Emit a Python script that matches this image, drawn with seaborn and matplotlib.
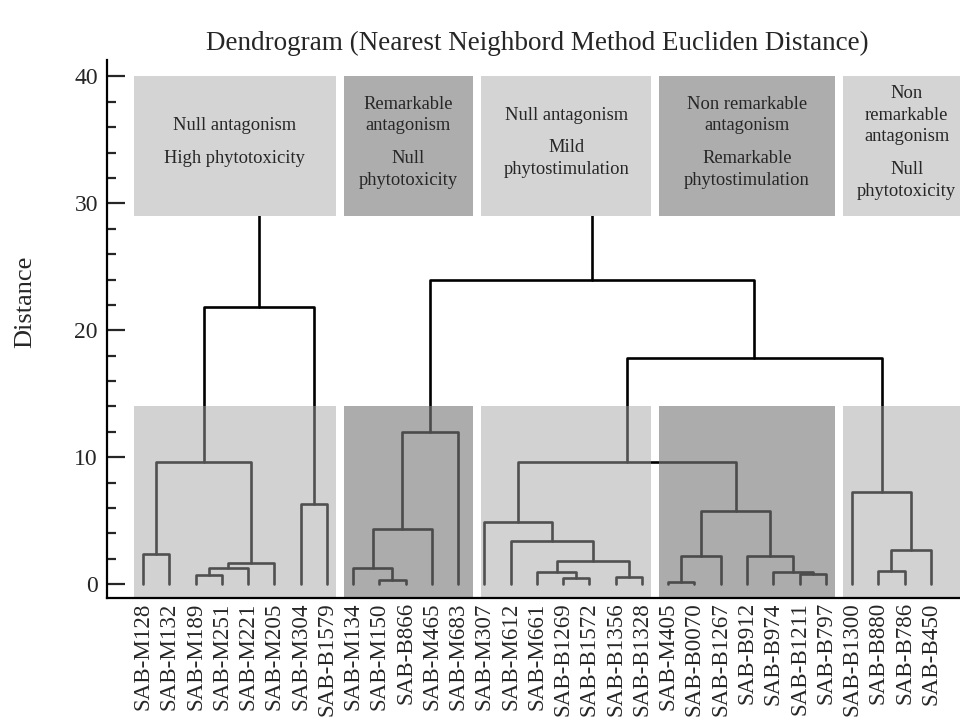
import matplotlib
matplotlib.use("Agg")
import matplotlib.pyplot as plt
from matplotlib.patches import Rectangle
import seaborn as sns
import pandas as pd

leaf_labels = ['SAB-M128', 'SAB-M132', 'SAB-M189', 'SAB-M251', 'SAB-M221', 'SAB-M205',
               'SAB-M304', 'SAB-B1579', 'SAB-M134', 'SAB-M150', 'SAB-B866', 'SAB-M465',
               'SAB-M683', 'SAB-M307', 'SAB-M612', 'SAB-M661', 'SAB-B1269', 'SAB-B1572',
               'SAB-B1356', 'SAB-B1328', 'SAB-M405', 'SAB-B0070', 'SAB-B1267', 'SAB-B912',
               'SAB-B974', 'SAB-B1211', 'SAB-B797', 'SAB-B1300', 'SAB-B880', 'SAB-B786',
               'SAB-B450']

# merges like a linkage table: node 31+k joins merge_a[k] and merge_b[k]
merge_a = [20, 9, 16, 18, 2, 25, 15, 24, 28, 8, 35, 41, 37, 31, 23, 0, 39, 14, 40, 13,
           44, 6, 27, 46, 50, 49, 55, 54, 56]
merge_b = [21, 10, 17, 19, 3, 26, 33, 36, 29, 32, 4, 5, 34, 22, 38, 1, 30, 43, 11, 48,
           45, 7, 47, 42, 51, 12, 53, 52, 57]
merge_h = [0.13, 0.30, 0.47, 0.58, 0.73, 0.76, 0.92, 0.92, 1.05, 1.23, 1.23, 1.63, 1.81,
           2.2, 2.2, 2.4, 2.68, 3.41, 4.33, 4.86, 5.77, 6.27, 7.22, 9.58, 9.63, 12.0,
           17.85, 21.85, 24.0]

cluster_first = [0, 8, 13, 20, 27]
cluster_last = [7, 12, 19, 26, 30]
cluster_text = [
    [['Null antagonism'], ['High phytotoxicity']],
    [['Remarkable', 'antagonism'], ['Null', 'phytotoxicity']],
    [['Null antagonism'], ['Mild', 'phytostimulation']],
    [['Non remarkable', 'antagonism'], ['Remarkable', 'phytostimulation']],
    [['Non', 'remarkable', 'antagonism'], ['Null', 'phytotoxicity']],
]

sns.set_style("white")
plt.rcParams['font.family'] = ['Liberation Serif', 'DejaVu Serif']

# dendrogram coordinates
n = len(leaf_labels)
node_x = [float(i) for i in range(n)]
node_h = [0.0] * n
rows = []
for k, (a, b, h) in enumerate(zip(merge_a, merge_b, merge_h)):
    xs = [node_x[a], node_x[a], node_x[b], node_x[b]]
    ys = [node_h[a], h, h, node_h[b]]
    for x, y in zip(xs, ys):
        rows.append({'x': x, 'y': y, 'seg': k})
    node_x.append((node_x[a] + node_x[b]) / 2)
    node_h.append(h)
used = set(merge_a) | set(merge_b)
roots = [i for i in range(len(node_x)) if i not in used]
for r in roots:
    rows.append({'x': node_x[r], 'y': node_h[r], 'seg': 100 + r})
    rows.append({'x': node_x[r], 'y': 29.5, 'seg': 100 + r})
df = pd.DataFrame(rows)

fig = plt.figure(figsize=(9.6, 7.24), dpi=100)
ax = fig.add_axes([107 / 960, 126 / 724, 853 / 960, 538 / 724])

sns.lineplot(data=df, x='x', y='y', units='seg', estimator=None, sort=False,
             color='black', lw=1.9, ax=ax, zorder=2)

light_top, dark_top = '#d4d4d4', '#adadad'
for i, (f, l) in enumerate(zip(cluster_first, cluster_last)):
    left = f - 0.35
    right = l + 0.35 if i < len(cluster_first) - 1 else l + 1.5
    if i == 2:
        left = f - 0.12
    if i == 1:
        right = l + 0.55
    dark = i % 2 == 1
    # lower translucent boxes over the branches
    ax.add_patch(Rectangle((left, -1.1), right - left, 15.1,
                           facecolor='#7a7a7a' if dark else '#a5a5a5',
                           alpha=0.62 if dark else 0.49, lw=0, zorder=3))
    # upper description boxes
    ax.add_patch(Rectangle((left, 29), right - left, 11,
                           facecolor=dark_top if dark else light_top, lw=0, zorder=4))
    # text lines, grouped
    groups = cluster_text[i]
    ys = []
    y = 0.0
    for g, lines in enumerate(groups):
        if g > 0:
            y -= 0.87
        for line in lines:
            ys.append(y)
            y -= 1.73
    shift = 34.8 - (ys[0] + ys[-1]) / 2
    j = 0
    cx = (left + min(right, 31.9)) / 2
    for lines in groups:
        for line in lines:
            ax.text(cx, ys[j] + shift, line, ha='center', va='center',
                    fontsize=13.3, zorder=5)
            j += 1

ax.set_xlim(-1.37, 31.11)
ax.set_ylim(-1.1, 41.3)
ax.set_xticks(range(n))
ax.set_xticklabels(leaf_labels, rotation=90, fontsize=16.6)
ax.set_yticks([0, 10, 20, 30, 40])
ax.set_yticks(range(0, 41, 2), minor=True)
ax.tick_params(axis='y', which='major', direction='in', length=13, width=1.6,
               labelsize=17, pad=6.5, left=True)
ax.tick_params(axis='y', which='minor', direction='in', length=6.5, width=1.6, left=True)
ax.tick_params(axis='x', length=0, pad=3)
ax.set_xlabel('')
ax.set_ylabel('')
sns.despine(ax=ax)
for s in ['left', 'bottom']:
    ax.spines[s].set_linewidth(1.6)
    ax.spines[s].set_color('black')
    ax.spines[s].set_zorder(6)

fig.text(25 / 960, 1 - 302 / 724, 'Distance', rotation=90, ha='center', va='center',
         fontsize=19)
fig.text(537 / 960, 1 - 43 / 724, 'Dendrogram (Nearest Neighbord Method Eucliden Distance)',
         ha='center', va='center', fontsize=19.5)

fig.savefig('out.png', dpi=100)
